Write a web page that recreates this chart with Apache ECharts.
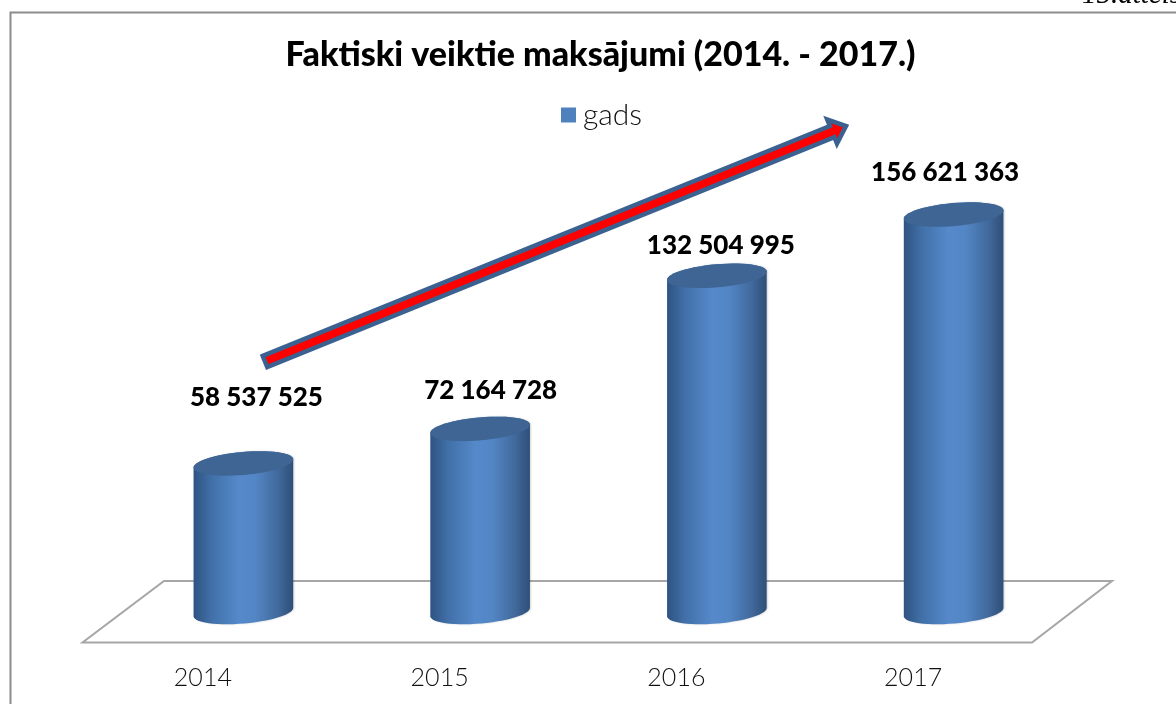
<!DOCTYPE html>
<html><head><meta charset="utf-8">
<style>html,body{margin:0;padding:0;background:#fff}#c{width:1176px;height:704px}</style>
<script src="https://cdn.jsdelivr.net/npm/echarts@6/dist/echarts.min.js"></script>
</head><body><div id="c"></div>
<script>
const categories = ['2014','2015','2016','2017'];
const seriesName = 'gads';
const values = [58537525, 72164728, 132504995, 156621363];
const valueLabels = ['58 537 525','72 164 728','132 504 995','156 621 363'];
const titleText = 'Faktiski veiktie maksājumi (2014. - 2017.)';
const figureCaption = '15.attēls';

const FONT = 'Lato, "Noto Sans", sans-serif';
const labelDx = [13, 10.5, 4, -8.5];
const labelDy = [-66, -38, -30, -42];
const DEPTH = 40.5, RX = 50, RY = 11.5, TILT = -5 * Math.PI / 180;

function ellipsePts(cx, cy, from, to, n) {
  const pts = [];
  for (let i = 0; i <= n; i++) {
    const t = from + (to - from) * i / n;
    const ex = RX * Math.cos(t), ey = RY * Math.sin(t);
    pts.push([cx + ex * Math.cos(TILT) - ey * Math.sin(TILT),
              cy + ex * Math.sin(TILT) + ey * Math.cos(TILT)]);
  }
  return pts;
}
function renderCyl(params, api) {
  const top = api.coord([api.value(0), api.value(1)]);
  const base = api.coord([api.value(0), 0]);
  const cx = top[0] + DEPTH;
  const i = params.dataIndex;
  const grad = new echarts.graphic.LinearGradient(0, 0, 1, 0, [
    {offset: 0, color: '#2e5382'}, {offset: .18, color: '#4170a8'},
    {offset: .45, color: '#5589ca'}, {offset: .62, color: '#5386c5'},
    {offset: .85, color: '#41699c'}, {offset: 1, color: '#2e4f78'}]);
  const body = ellipsePts(cx, base[1], Math.PI, 0, 28)
    .concat(ellipsePts(cx, top[1], 0, -Math.PI, 28));
  return {type: 'group', children: [
    {type: 'polygon', shape: {points: body},
     style: {fill: grad, shadowColor: 'rgba(0,0,0,.18)', shadowBlur: 2, shadowOffsetX: 1, shadowOffsetY: 0}},
    {type: 'polygon', shape: {points: ellipsePts(cx, top[1], 0, 2 * Math.PI, 56)},
     style: {fill: '#3e6594'}},
    {type: 'text', style: {x: cx + labelDx[i], y: top[1] + labelDy[i], text: valueLabels[i],
      align: 'center', verticalAlign: 'middle', fill: '#000',
      fontFamily: FONT, fontWeight: 900, fontSize: 26}}
  ]};
}
// arrow annotation
const tail = [265, 361.5], tip = [846, 126];
const L = Math.hypot(tip[0]-tail[0], tip[1]-tail[1]);
const u = [(tip[0]-tail[0])/L, (tip[1]-tail[1])/L], n = [-u[1], u[0]];
const P = (a, b) => [tail[0]+u[0]*a+n[0]*b, tail[1]+u[1]*a+n[1]*b];
const arrowPts = [P(0,-6), P(L-15,-6), P(L-15,-13), P(L,0), P(L-15,13), P(L-15,6), P(0,6)];

const chart = echarts.init(document.getElementById('c'), null, {renderer: 'canvas'});
chart.setOption({
  animation: false,
  backgroundColor: '#fff',
  title: {text: titleText, left: 595.5, top: 33, textAlign: 'center',
    textStyle: {fontFamily: FONT, fontWeight: 900, fontSize: 34, color: '#000'}},
  legend: {data: [seriesName], left: 556, top: 95, icon: 'rect', itemWidth: 15, itemHeight: 15, itemGap: 6,
    textStyle: {fontFamily: FONT, fontWeight: 300, fontSize: 30, color: '#111', padding: [0,0,0,2]}},
  grid: {left: 84.5, width: 947, top: 206, height: 406},
  xAxis: {type: 'category', data: categories,
    axisLine: {show: false}, axisTick: {show: false},
    axisLabel: {margin: 53, fontFamily: FONT, fontWeight: 300, fontSize: 25, color: '#111'}},
  yAxis: {type: 'value', min: 0, max: 160000000, show: false},
  series: [{name: seriesName, type: 'custom', renderItem: renderCyl,
    itemStyle: {color: '#4f81bd'}, encode: {x: 0, y: 1}, clip: false,
    data: categories.map((c, i) => [i, values[i]])}],
  graphic: [
    {type: 'polyline', silent: true, shape: {points: [[10.5,704],[10.5,12.5],[1176,12.5]]},
     style: {fill: null, stroke: '#8c8c8c', lineWidth: 2}},
    {type: 'text', silent: true, x: 1082, y: -19, style: {text: figureCaption,
      fontStyle: 'italic', fontSize: 29, fontFamily: '"Liberation Serif"', fill: '#000'}},
    {type: 'polygon', silent: true, shape: {points: [[82.5,642.5],[1032,642.5],[1112,581],[164,581]]},
     style: {fill: null, stroke: '#a6a6a6', lineWidth: 2}},
    {type: 'polygon', silent: true, shape: {points: arrowPts},
     style: {fill: '#ff0000', stroke: '#3b6191', lineWidth: 4.5, lineJoin: 'miter'}}
  ]
});
</script></body></html>
